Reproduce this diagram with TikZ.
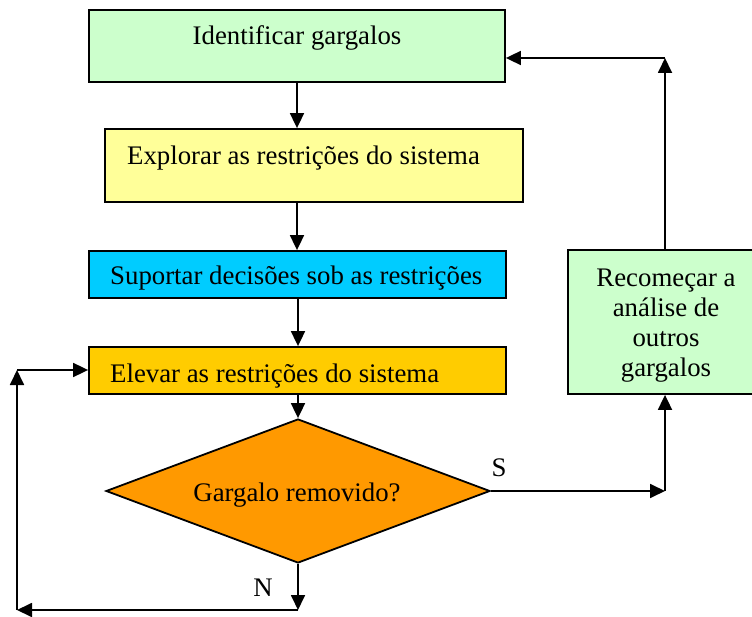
\documentclass[tikz,border=0pt]{standalone}
\usepackage{fontspec}
\setmainfont{Liberation Serif}
\usetikzlibrary{arrows.meta,shapes.geometric}
\definecolor{lgreen}{HTML}{CCFFCC}
\definecolor{lyellow}{HTML}{FFFF99}
\definecolor{lcyan}{HTML}{00CCFF}
\definecolor{lgold}{HTML}{FFCC00}
\definecolor{lorange}{HTML}{FF9900}
\tikzset{
  boxshape/.style={draw=black, line width=1.8pt, rectangle, inner sep=0pt},
  txt/.style={inner sep=0pt, font=\fontsize{26.8}{30}\selectfont},
  conn/.style={line width=1.8pt, -{Triangle[length=15pt,width=14pt]}},
}
\begin{document}
\begin{tikzpicture}[x=1pt,y=-1pt]
\useasboundingbox (0,0) rectangle (752,617);
% boxes
\node[boxshape, fill=lgreen, minimum width=416pt, minimum height=72pt] (b1) at (297,46) {};
\node[boxshape, fill=lyellow, minimum width=418pt, minimum height=73pt] (b2) at (314,165.5) {};
\node[boxshape, fill=lcyan, minimum width=417pt, minimum height=47pt] (b3) at (297.5,274.5) {};
\node[boxshape, fill=lgold, minimum width=417pt, minimum height=47pt] (b4) at (297.5,370.5) {};
\node[boxshape, fill=lorange, diamond, minimum width=384pt, minimum height=144pt] (d) at (298,491) {};
\node[boxshape, fill=lgreen, minimum width=186pt, minimum height=144pt] (b5) at (661,322) {};
% texts
\node[txt, anchor=base] (t1) at (297,45) {Identificar gargalos};
\node[txt, anchor=base west] (t2) at (127,165) {Explorar as restrições do sistema};
\node[txt, anchor=base west] (t3) at (110,285) {Suportar decisões sob as restrições};
\node[txt, anchor=base west] (t4) at (110,382) {Elevar as restrições do sistema};
\node[txt, anchor=base] (td) at (297,501) {Gargalo removido?};
\node[txt, anchor=base] (t5a) at (666,287) {Recomeçar a};
\node[txt, anchor=base] (t5b) at (666,317) {análise de};
\node[txt, anchor=base] (t5c) at (666,347) {outros};
\node[txt, anchor=base] (t5d) at (666,377) {gargalos};
\node[txt, anchor=base] (ls) at (499,476) {S};
\node[txt, anchor=base] (ln) at (263,596) {N};
% helper coordinates
\coordinate (cS) at (665,491);
\coordinate (cT) at (665,58);
\coordinate (cN) at (298,610);
\coordinate (cL) at (17,610);
\coordinate (cU) at (17,370);
\coordinate (a1) at (297,82);
\coordinate (a2) at (297,202);
\coordinate (a3) at (298,298);
% connectors
\draw[conn] (a1) -- (a1 |- b2.north);
\draw[conn] (a2) -- (a2 |- b3.north);
\draw[conn] (a3) -- (a3 |- b4.north);
\draw[conn] (b4.south -| d.north) -- (d.north);
\draw[conn] (d.east) -- (cS);
\draw[conn] (cS) -- (cS |- b5.south);
\draw[conn] (cS |- b5.north) -- (cT);
\draw[conn] (cT) -- (cT -| b1.east);
\draw[conn] (d.south) -- (cN);
\draw[conn] (cN) -- (cL);
\draw[conn] (cL) -- (cU);
\draw[conn] (cU) -- (cU -| b4.west);
\end{tikzpicture}
\end{document}
